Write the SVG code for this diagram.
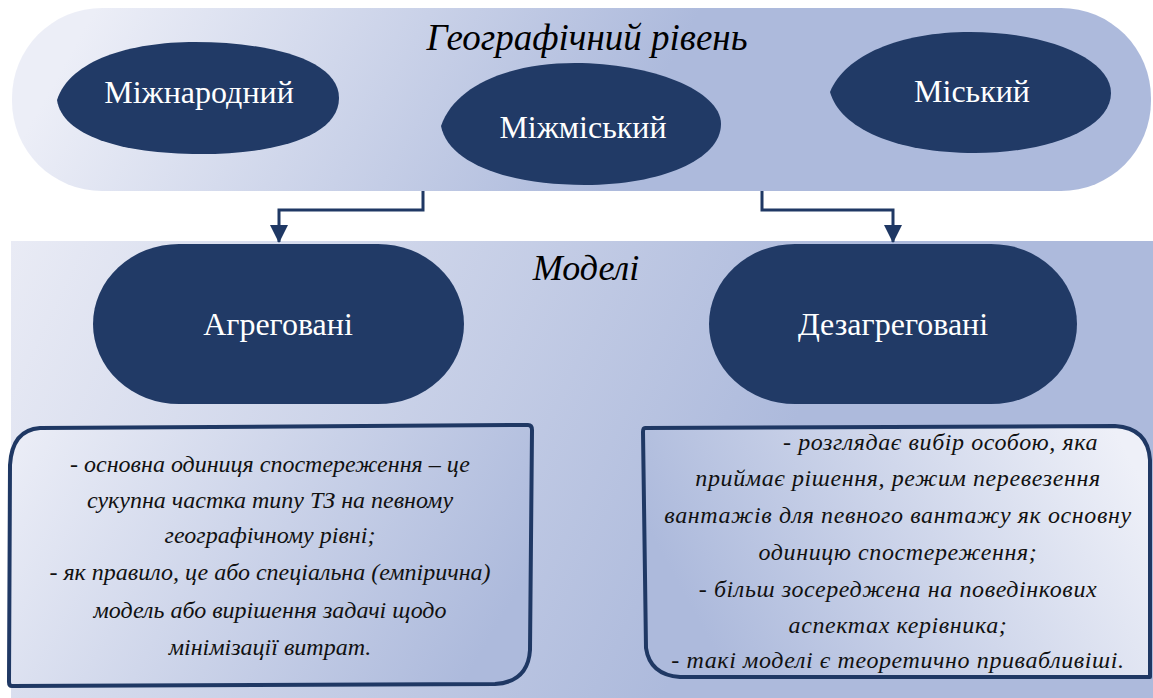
<svg xmlns="http://www.w3.org/2000/svg" width="1153" height="698" viewBox="0 0 1153 698">
  <defs>
    <linearGradient id="bannerFill" gradientUnits="userSpaceOnUse" x1="100" y1="0" x2="560" y2="260">
      <stop offset="0" stop-color="#eceef7"/>
      <stop offset="1" stop-color="#adbadc"/>
    </linearGradient>
    <linearGradient id="panelFill" gradientUnits="userSpaceOnUse" x1="12" y1="241" x2="720" y2="580">
      <stop offset="0" stop-color="#e9ebf5"/>
      <stop offset="1" stop-color="#adbadc"/>
    </linearGradient>
    <linearGradient id="leftNoteFill" gradientUnits="userSpaceOnUse" x1="10" y1="428" x2="460" y2="690">
      <stop offset="0" stop-color="#eceef7"/>
      <stop offset="1" stop-color="#adbadc"/>
    </linearGradient>
    <linearGradient id="rightNoteFill" gradientUnits="userSpaceOnUse" x1="1120" y1="440" x2="720" y2="660">
      <stop offset="0" stop-color="#eef0f8"/>
      <stop offset="1" stop-color="#adbadc"/>
    </linearGradient>
    <marker id="arrowHead" viewBox="0 0 18 18" refX="17" refY="9" markerWidth="18" markerHeight="18" markerUnits="userSpaceOnUse" orient="auto">
      <path d="M0 0 L18 9 L0 18 Z" fill="#1f3864"/>
    </marker>
  </defs>

  <rect width="1153" height="698" fill="#ffffff"/>

  <!-- geographic level band -->
  <g id="geo-level">
    <rect x="12" y="8" width="1139" height="183" rx="90" ry="90" fill="url(#bannerFill)"/>
    <text font-family="Liberation Serif" font-style="italic" font-size="37" fill="#000000" text-anchor="middle" x="587" y="50">Географічний рівень</text>
  </g>

  <g id="international">
    <path fill="#213a66" d="M57 100 C70 60 130 42 195 42 C270 42 339 60 339 98 C339 135 280 154 200 154 C120 154 62 135 57 100 Z"/>
    <text font-family="Liberation Serif" font-size="32" fill="#ffffff" text-anchor="middle" x="199" y="103">Міжнародний</text>
  </g>

  <g id="intercity">
    <path fill="#213a66" d="M441 126 C455 85 510 63 575 63 C650 63 721 90 721 124 C721 160 660 185 585 185 C505 185 448 162 441 126 Z"/>
    <text font-family="Liberation Serif" font-size="32" fill="#ffffff" text-anchor="middle" x="583" y="138">Міжміський</text>
  </g>

  <g id="urban">
    <path fill="#213a66" d="M830 92 C845 55 900 32 970 32 C1050 32 1111 60 1111 93 C1111 128 1050 153 975 153 C895 153 840 128 830 92 Z"/>
    <text font-family="Liberation Serif" font-size="32" fill="#ffffff" text-anchor="middle" x="972" y="102">Міський</text>
  </g>

  <!-- models panel -->
  <g id="models">
    <rect x="11" y="241" width="1142" height="457" fill="url(#panelFill)"/>
    <text font-family="Liberation Serif" font-style="italic" font-size="36" fill="#000000" text-anchor="middle" x="586" y="280">Моделі</text>
  </g>

  <g id="aggregated">
    <rect fill="#213a66" x="93" y="244" width="371" height="160" rx="86" ry="80"/>
    <text font-family="Liberation Serif" font-size="32" fill="#ffffff" text-anchor="middle" x="278" y="335">Агреговані</text>
  </g>

  <g id="disaggregated">
    <rect fill="#213a66" x="709" y="244" width="368" height="160" rx="86" ry="80"/>
    <text font-family="Liberation Serif" font-size="32" fill="#ffffff" text-anchor="middle" x="893" y="335">Дезагреговані</text>
  </g>

  <g id="aggregated-note">
    <path fill="url(#leftNoteFill)" stroke="#1f3864" stroke-width="4" stroke-linejoin="round" d="M40 428 L528 425 Q532 425 532 430 L530 650 Q528 682 495 684 L12 686 Q9 686 9 682 L10 465 Q12 430 40 428 Z"/>
    <text font-family="Liberation Serif" font-style="italic" font-size="24" fill="#111111" text-anchor="middle" x="270" y="472">- основна одиниця спостереження – це</text>
    <text font-family="Liberation Serif" font-style="italic" font-size="24" fill="#111111" text-anchor="middle" x="270" y="508">сукупна частка типу ТЗ на певному</text>
    <text font-family="Liberation Serif" font-style="italic" font-size="24" fill="#111111" text-anchor="middle" x="270" y="543">географічному рівні;</text>
    <text font-family="Liberation Serif" font-style="italic" font-size="24" fill="#111111" text-anchor="middle" x="270" y="580">- як правило, це або спеціальна (емпірична)</text>
    <text font-family="Liberation Serif" font-style="italic" font-size="24" fill="#111111" text-anchor="middle" x="270" y="618">модель або вирішення задачі щодо</text>
    <text font-family="Liberation Serif" font-style="italic" font-size="24" fill="#111111" text-anchor="middle" x="270" y="655">мінімізації витрат.</text>
  </g>

  <g id="disaggregated-note">
    <path fill="url(#rightNoteFill)" stroke="#1f3864" stroke-width="4" stroke-linejoin="round" d="M645 428 L1115 426 Q1148 428 1150 460 L1150 677 L680 677 Q650 675 646 648 L643 432 Q643 428 645 428 Z"/>
    <text font-family="Liberation Serif" font-style="italic" font-size="24" letter-spacing="0.6" fill="#111111" text-anchor="start" x="783" y="450">-  розглядає вибір особою, яка</text>
    <text font-family="Liberation Serif" font-style="italic" font-size="24" letter-spacing="0.6" fill="#111111" text-anchor="middle" x="898" y="486">приймає рішення, режим перевезення</text>
    <text font-family="Liberation Serif" font-style="italic" font-size="24" letter-spacing="0.6" fill="#111111" text-anchor="middle" x="898" y="523">вантажів для певного вантажу як основну</text>
    <text font-family="Liberation Serif" font-style="italic" font-size="24" letter-spacing="0.6" fill="#111111" text-anchor="middle" x="898" y="560">одиницю спостереження;</text>
    <text font-family="Liberation Serif" font-style="italic" font-size="24" letter-spacing="0.6" fill="#111111" text-anchor="middle" x="898" y="597">- більш зосереджена на поведінкових</text>
    <text font-family="Liberation Serif" font-style="italic" font-size="24" letter-spacing="0.6" fill="#111111" text-anchor="middle" x="898" y="633">аспектах керівника;</text>
    <text font-family="Liberation Serif" font-style="italic" font-size="24" letter-spacing="0.6" fill="#111111" text-anchor="middle" x="898" y="668">- такі моделі є теоретично привабливіші.</text>
  </g>

  <!-- connectors -->
  <g id="connectors" fill="none" stroke="#1f3864" stroke-width="3">
    <path d="M423 191 L423 210 L279 210 L279 242" marker-end="url(#arrowHead)"/>
    <path d="M762 191 L762 210 L893 210 L893 242" marker-end="url(#arrowHead)"/>
  </g>
</svg>
